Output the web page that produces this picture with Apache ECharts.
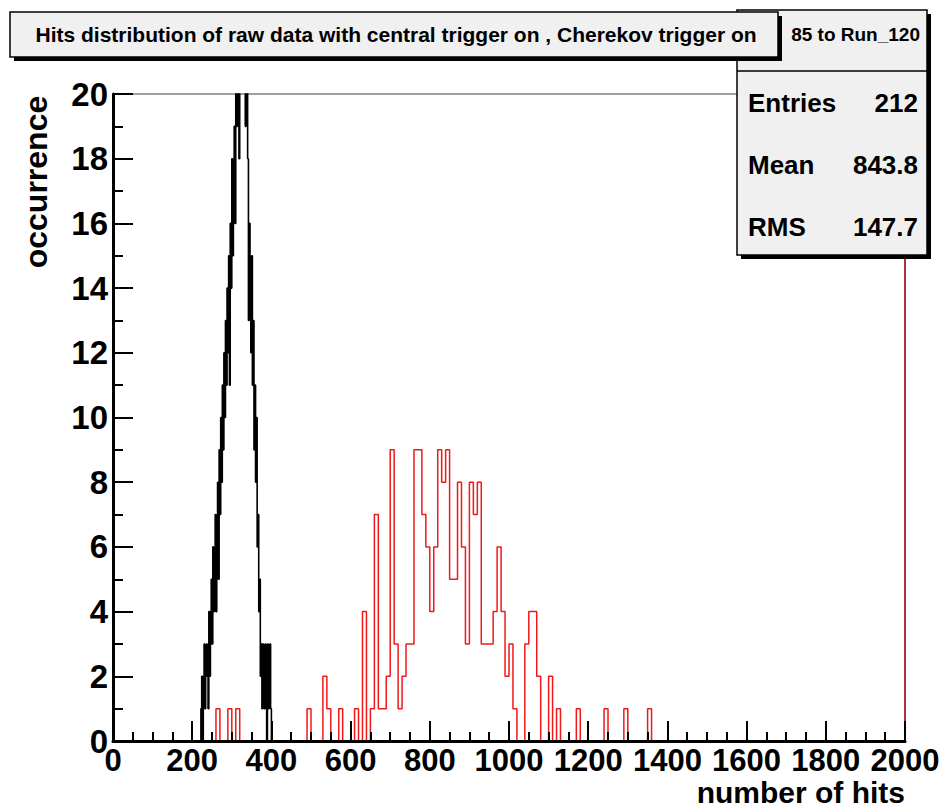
<!DOCTYPE html>
<html lang="en">
<head>
    <meta charset="utf-8">
    <title>Hits distribution</title>
    <script src="https://cdn.jsdelivr.net/npm/echarts@6/dist/echarts.min.js"></script>
    <style>
        html,
        body,
        #main {
            width: 100%;
            height: 100%;
            margin: 0;
            padding: 0;
            overflow: hidden;
            background-color: #ffffff;
        }
    </style>
</head>
<body>
<div id="main"></div>
<script>
    // central trigger + Cherekov trigger (red), 10-hit bins from 260 to 1360
    var redStart = 260;
    var redWidth = 10;
    var redCounts = [
        1, 0, 0, 1, 0, 1, 0, 0, 0, 0,
        0, 0, 0, 0, 0, 0, 0, 0, 0, 0,
        0, 0, 0, 1, 0, 0, 0, 2, 1, 0,
        0, 1, 0, 0, 0, 1, 0, 4, 0, 1,
        7, 1, 1, 2, 9, 3, 1, 2, 3, 3,
        9, 9, 7, 6, 4, 6, 9, 8, 9, 5,
        5, 8, 6, 3, 8, 7, 8, 3, 3, 3,
        4, 6, 4, 2, 3, 1, 0, 0, 3, 4,
        4, 2, 0, 0, 2, 0, 1, 0, 0, 0,
        0, 1, 0, 0, 0, 0, 0, 0, 1, 0,
        0, 0, 0, 1, 0, 0, 0, 0, 0, 1
    ];

    // black histogram, fine 2-hit bins from 220 to 400 (goes above 20 near the peak)
    var blackStart = 220;
    var blackWidth = 2;
    var blackCounts = [
        0, 1, 2, 0, 2, 3, 1, 2, 3, 2,
        1, 4, 2, 3, 5, 3, 6, 4, 5, 7,
        4, 6, 8, 5, 9, 7, 10, 8, 11, 9,
        12, 10, 13, 11, 14, 12, 15, 11, 16, 14,
        18, 15, 17, 19, 16, 21, 19, 23, 20, 18,
        24, 21, 26, 22, 25, 21, 24, 19, 23, 21,
        18, 13, 16, 14, 12, 15, 11, 13, 9, 11,
        8, 10, 6, 7, 4, 5, 2, 3, 1, 3,
        2, 1, 3, 2, 0, 3, 1, 2, 3, 1
    ];

    var titleText = 'Hits distribution of raw data with central trigger on , Cherekov trigger on';
    var histName = '85 to Run_120';
    var statNames = ['Entries', 'Mean', 'RMS'];
    var statValues = ['212', '843.8', '147.7'];
    var xTitle = 'number of hits';
    var yTitle = 'occurrence';

    var font = 'Liberation Sans';

    function histPoints(start, width, counts) {
        var pts = [[start, 0]];
        for (var i = 0; i < counts.length; i++) {
            pts.push([start + i * width, counts[i]]);
            pts.push([start + (i + 1) * width, counts[i]]);
        }
        pts.push([start + counts.length * width, 0]);
        return pts;
    }

    var tickStyle = {color: '#000', width: 2};

    var graphics = [
        // stats box
        {type: 'rect', z: 100, shape: {x: 741, y: 14, width: 190, height: 245}, style: {fill: '#000'}},
        {type: 'rect', z: 101, shape: {x: 737, y: 10, width: 190, height: 245},
            style: {fill: '#f0f0f0', stroke: '#000', lineWidth: 1.5}},
        {type: 'line', z: 102, shape: {x1: 737, y1: 71, x2: 927, y2: 71}, style: {stroke: '#000', lineWidth: 1.5}},
        {type: 'text', z: 102, x: 920, y: 34,
            style: {text: histName, font: 'bold 19px ' + font, fill: '#000', align: 'right', verticalAlign: 'middle'}},
        // title box
        {type: 'rect', z: 110, shape: {x: 14, y: 16, width: 768, height: 45}, style: {fill: '#000'}},
        {type: 'rect', z: 111, shape: {x: 10, y: 12, width: 768, height: 45},
            style: {fill: '#f0f0f0', stroke: '#000', lineWidth: 1.5}},
        {type: 'text', z: 112, x: 396, y: 34,
            style: {text: titleText, font: 'bold 21px ' + font, fill: '#000', align: 'center', verticalAlign: 'middle'}},
        // axis titles
        {type: 'text', z: 20, x: 36, y: 182, rotation: Math.PI / 2,
            style: {text: yTitle, font: 'bold 32px ' + font, fill: '#000', align: 'center', verticalAlign: 'middle'}},
        {type: 'text', z: 20, x: 905, y: 792,
            style: {text: xTitle, font: 'bold 30px ' + font, fill: '#000', align: 'right', verticalAlign: 'middle'}}
    ];
    var statY = [103, 165, 227];
    for (var s = 0; s < statNames.length; s++) {
        graphics.push({type: 'text', z: 102, x: 748, y: statY[s],
            style: {text: statNames[s], font: 'bold 26px ' + font, fill: '#000', align: 'left', verticalAlign: 'middle'}});
        graphics.push({type: 'text', z: 102, x: 918, y: statY[s],
            style: {text: statValues[s], font: 'bold 26px ' + font, fill: '#000', align: 'right', verticalAlign: 'middle'}});
    }

    var dom = document.getElementById('main');
    var myChart = echarts.init(dom, null, {renderer: 'svg'});
    var option = {
        animation: false,
        backgroundColor: '#ffffff',
        grid: {
            left: 113,
            top: 94,
            right: 38,
            bottom: 70,
            show: true,
            borderColor: '#444',
            borderWidth: 1
        },
        xAxis: {
            type: 'value',
            min: 0,
            max: 2000,
            interval: 200,
            z: 5,
            axisLine: {lineStyle: {color: '#000', width: 3}},
            axisTick: {inside: true, length: 20, lineStyle: tickStyle},
            minorTick: {show: true, splitNumber: 4, length: 9, lineStyle: tickStyle},
            splitLine: {show: false},
            axisLabel: {
                fontFamily: font, fontWeight: 'bold', fontSize: 31, color: '#000', margin: 4,
                showMaxLabel: true, showMinLabel: true, hideOverlap: false,
                formatter: function (v) { return String(v); }
            }
        },
        yAxis: [{
            type: 'value',
            min: 0,
            max: 20,
            interval: 2,
            z: 5,
            axisLine: {lineStyle: {color: '#000', width: 3}},
            axisTick: {inside: true, length: 20, lineStyle: tickStyle},
            minorTick: {show: true, splitNumber: 2, length: 10, lineStyle: tickStyle},
            splitLine: {show: false},
            axisLabel: {fontFamily: font, fontWeight: 'bold', fontSize: 33, color: '#000', margin: 5}
        }, {
            type: 'value',
            position: 'right',
            min: 0,
            max: 20,
            z: 5,
            axisLine: {show: true, lineStyle: {color: '#b01010', width: 1.5}},
            axisTick: {show: false},
            axisLabel: {show: false},
            splitLine: {show: false}
        }],
        series: [
            {
                name: 'black',
                type: 'line',
                data: histPoints(blackStart, blackWidth, blackCounts),
                showSymbol: false,
                symbol: 'none',
                lineStyle: {color: '#000', width: 1.6},
                z: 2
            },
            {
                name: 'red',
                type: 'line',
                data: histPoints(redStart, redWidth, redCounts),
                showSymbol: false,
                symbol: 'none',
                lineStyle: {color: '#f01818', width: 1.5},
                z: 3
            }
        ],
        graphic: graphics
    };
    myChart.setOption(option);
</script>
</body>
</html>
